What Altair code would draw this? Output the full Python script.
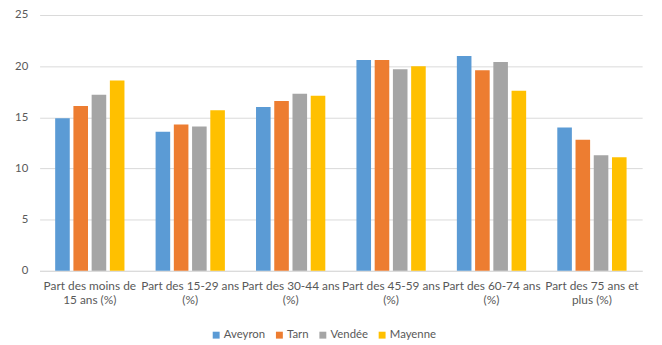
import altair as alt
import pandas as pd

categories = [
    "Part des moins de|15 ans (%)",
    "Part des 15-29 ans|(%)",
    "Part des 30-44 ans|(%)",
    "Part des 45-59 ans|(%)",
    "Part des 60-74 ans|(%)",
    "Part des 75 ans et|plus (%)",
]
series = ["Aveyron", "Tarn", "Vendée", "Mayenne"]
aveyron = [14.9, 13.6, 16.0, 20.6, 21.0, 14.0]
tarn = [16.1, 14.3, 16.6, 20.6, 19.6, 12.8]
vendee = [17.2, 14.1, 17.3, 19.7, 20.4, 11.3]
mayenne = [18.6, 15.7, 17.1, 20.0, 17.6, 11.1]
colors = ["#5B9BD5", "#ED7D31", "#A5A5A5", "#FFC000"]

rows = []
for name, vals in zip(series, [aveyron, tarn, vendee, mayenne]):
    for c, v in zip(categories, vals):
        rows.append({"cat": c, "serie": name, "val": v})
df = pd.DataFrame(rows)

FONT = "Lato"
GRAY = "#595959"

chart = alt.Chart(df).mark_bar().encode(
    x=alt.X("cat:N", sort=categories, title=None,
            scale=alt.Scale(paddingInner=0.31, paddingOuter=0.155),
            axis=alt.Axis(labelAngle=0, labelExpr="split(datum.label, '|')",
                          labelFont=FONT, labelFontSize=12, labelColor=GRAY,
                          labelLineHeight=14.5, labelPadding=10, ticks=False,
                          domainColor="#D9D9D9", labelOverlap=False, labelLimit=200)),
    xOffset=alt.XOffset("serie:N", sort=series,
                        scale=alt.Scale(paddingInner=0.2, paddingOuter=0)),
    y=alt.Y("val:Q", title=None,
            scale=alt.Scale(domain=[0, 25], nice=False),
            axis=alt.Axis(values=[0, 5, 10, 15, 20, 25], domain=False, ticks=False,
                          gridColor="#D9D9D9", labelFont=FONT, labelFontSize=11.5,
                          labelColor=GRAY, labelPadding=12)),
    color=alt.Color("serie:N", sort=series, title=None,
                    scale=alt.Scale(domain=series, range=colors),
                    legend=alt.Legend(orient="none", direction="horizontal",
                                      legendX=173, legendY=318,
                                      symbolType="square", symbolSize=49,
                                      symbolStrokeWidth=0,
                                      labelFont=FONT, labelFontSize=11.5,
                                      labelColor=GRAY, columnPadding=8,
                                      labelOffset=2)),
).properties(
    width=610, height=259,
    autosize=alt.AutoSizeParams(type="none"),
    padding={"left": 32, "top": 5, "right": 12, "bottom": 73},
).configure_view(stroke=None)

chart.save("out.html", embed_options={"renderer": "svg", "actions": False})
